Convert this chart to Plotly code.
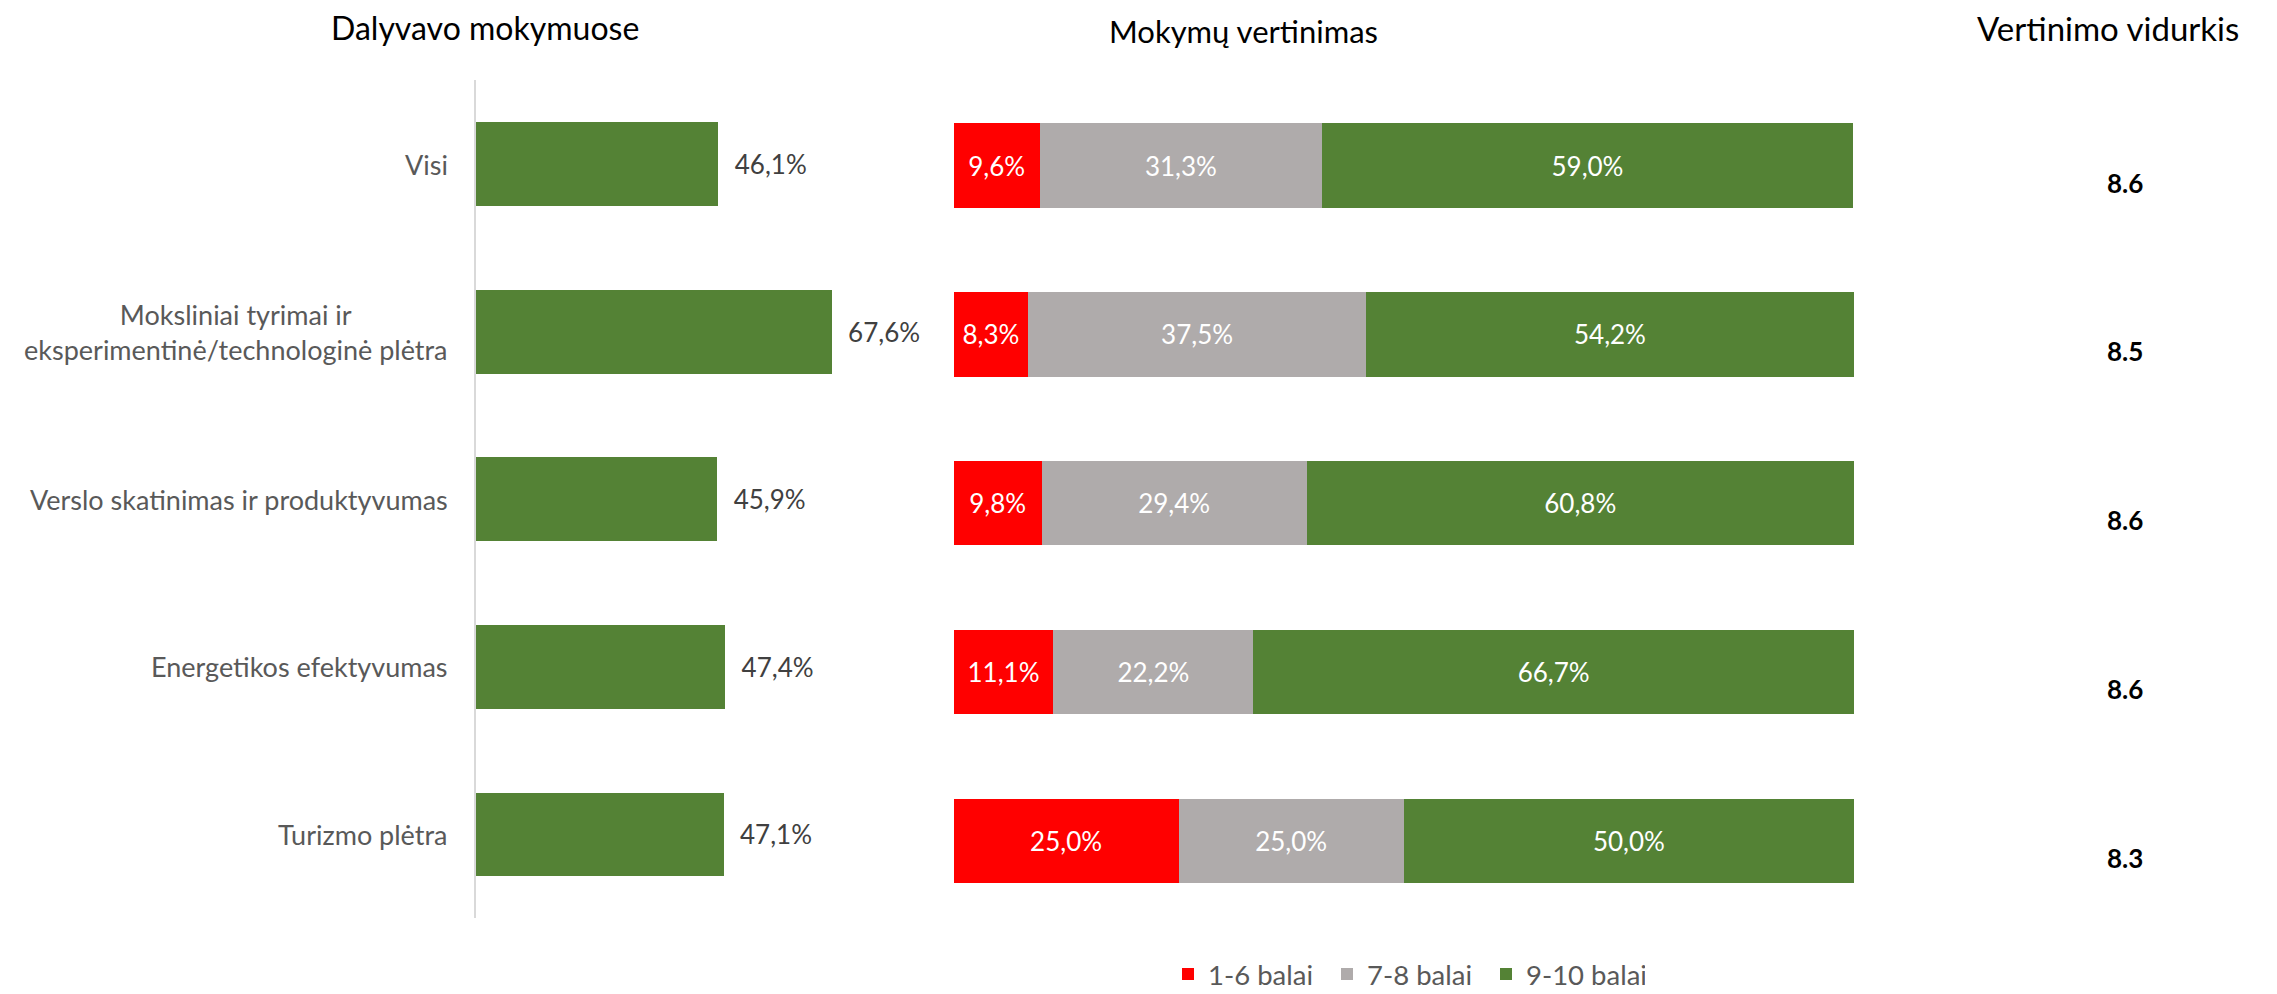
import plotly.graph_objects as go

# ---------------- data ----------------
categories = [
    "Visi",
    "Moksliniai tyrimai ir<br>eksperimentinė/technologinė plėtra",
    "Verslo skatinimas ir produktyvumas",
    "Energetikos efektyvumas",
    "Turizmo plėtra",
]
participated = [46.1, 67.6, 45.9, 47.4, 47.1]
score_1_6 = [9.6, 8.3, 9.8, 11.1, 25.0]
score_7_8 = [31.3, 37.5, 29.4, 22.2, 25.0]
score_9_10 = [59.0, 54.2, 60.8, 66.7, 50.0]
averages = [8.6, 8.5, 8.6, 8.6, 8.3]
series_names = ["1-6 balai", "7-8 balai", "9-10 balai"]
panel_titles = ["Dalyvavo mokymuose", "Mokymų vertinimas", "Vertinimo vidurkis"]

# ---------------- style ----------------
W, H = 2277, 994
FONT = "Lato, 'Open Sans', sans-serif"
GREEN = "#548235"
GREY = "#AFABAB"
RED = "#FF0000"
series_colors = [RED, GREY, GREEN]


def pct(v):
    return f"{v:.1f}".replace(".", ",") + "%"


def px_x(p):
    return p / W


def px_y(p):
    return 1 - p / H


fig = go.Figure()

# left panel: participation
fig.add_trace(go.Bar(
    y=categories, x=participated, orientation="h",
    marker=dict(color=GREEN, line=dict(width=0)),
    text=["\u00a0\u00a0" + pct(v) for v in participated],
    textposition="outside", cliponaxis=False, constraintext="none",
    textfont=dict(family=FONT, size=26, color="#404040"),
    xaxis="x", yaxis="y", showlegend=False, hoverinfo="skip",
))

# right panel: stacked evaluation
for name, vals, col in zip(series_names, [score_1_6, score_7_8, score_9_10], series_colors):
    fig.add_trace(go.Bar(
        y=categories, x=vals, orientation="h", name=name,
        marker=dict(color=col, line=dict(width=0)),
        text=[pct(v) for v in vals],
        textposition="inside", insidetextanchor="middle", constraintext="none",
        textfont=dict(family=FONT, size=26, color="white"),
        xaxis="x2", yaxis="y2", hoverinfo="skip",
    ))

ydom_left = [1 - 918.3 / H, 1 - 80.2 / H]
ydom_right = [1 - 925.4 / H, 1 - 81.1 / H]
left_dom = [px_x(475.5), px_x(475.5 + 82.5 * 5.27)]
right_dom = [px_x(953.5), px_x(1854)]

fig.update_layout(
    width=W, height=H,
    margin=dict(l=0, r=0, t=0, b=0, autoexpand=False),
    paper_bgcolor="white", plot_bgcolor="white",
    barmode="stack", bargap=0.5,
    separators=",.",
    font=dict(family=FONT, color="#595959"),
    xaxis=dict(domain=left_dom, range=[0, 82.5], visible=False, fixedrange=True),
    yaxis=dict(domain=ydom_left, anchor="x", categoryorder="array", categoryarray=categories,
               autorange="reversed", showticklabels=False, showgrid=False, zeroline=False,
               showline=True, linecolor="#D9D9D9", linewidth=2, ticks=""),
    xaxis2=dict(domain=right_dom, range=[0, 100], visible=False, anchor="y2"),
    yaxis2=dict(domain=ydom_right, anchor="x2", categoryorder="array", categoryarray=categories,
                autorange="reversed", visible=False),
    legend=dict(orientation="h", x=px_x(1168), xanchor="left", y=px_y(974), yanchor="middle",
                font=dict(family=FONT, size=27.5, color="#595959"), traceorder="normal",
                entrywidth=114, entrywidthmode="pixels",
                bgcolor="rgba(0,0,0,0)"),
)

annotations = []
# category labels (centered multi-line, right-aligned block)
for c in categories:
    annotations.append(dict(
        x=px_x(450), xref="paper", y=c, yref="y", xanchor="right", yanchor="middle",
        text=c, showarrow=False, align="center",
        font=dict(family=FONT, size=27, color="#595959"),
    ))
# averages
for c, a in zip(categories, averages):
    annotations.append(dict(
        x=px_x(2124.5), xref="paper", y=c, yref="y2", xanchor="center", yanchor="middle",
        yshift=-17, text=f"<b>{a:.1f}</b>", showarrow=False,
        font=dict(family=FONT, size=26, color="black"),
    ))
# panel titles
title_pos = [(485, 28, 32), (1243, 31, 31), (2108, 28, 33)]
for t, (tx, ty, fs) in zip(panel_titles, title_pos):
    annotations.append(dict(
        x=px_x(tx), xref="paper", y=px_y(ty), yref="paper", xanchor="center", yanchor="middle",
        text=t, showarrow=False, font=dict(family=FONT, size=fs, color="black"),
    ))
fig.update_layout(annotations=annotations)

fig.write_html(
    "out.html",
    config={"displayModeBar": False},
    post_script="document.body.style.margin='0';document.body.style.overflow='hidden';",
)
